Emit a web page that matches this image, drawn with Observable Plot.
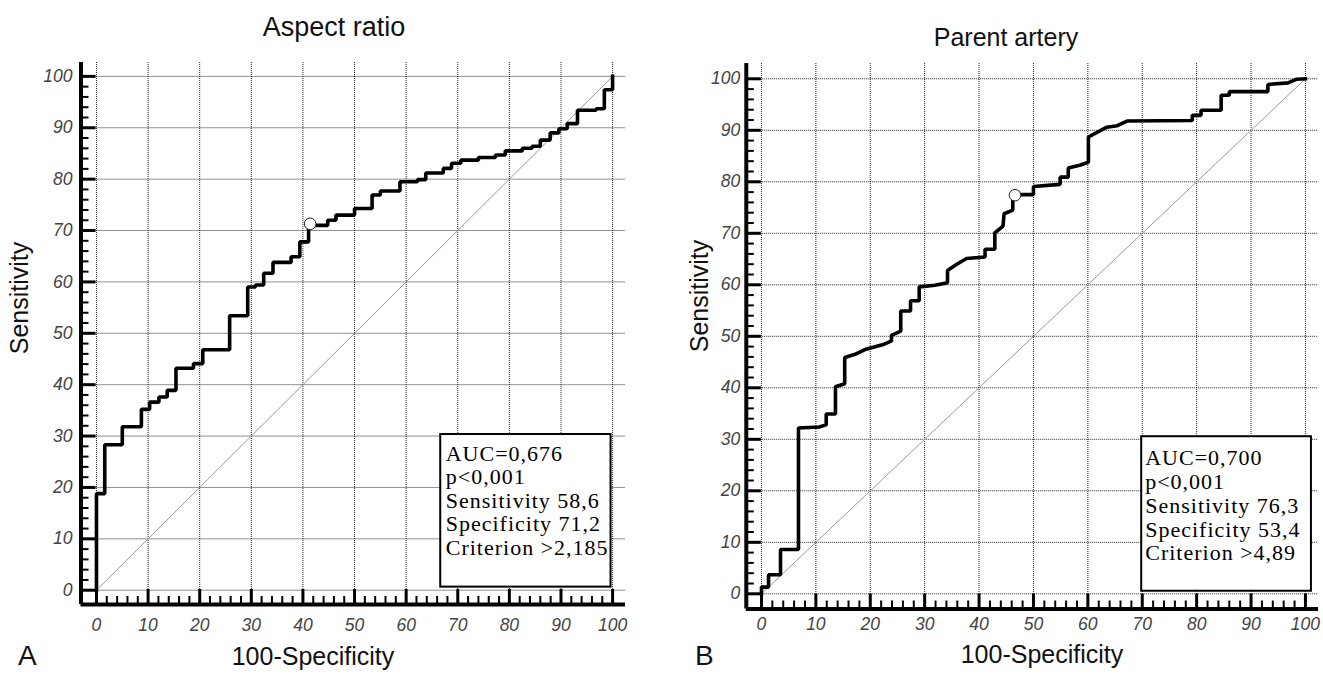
<!DOCTYPE html>
<html><head><meta charset="utf-8">
<script src="https://cdn.jsdelivr.net/npm/d3@7"></script>
<script src="https://cdn.jsdelivr.net/npm/@observablehq/plot@0.6"></script>
<style>
body{margin:0;background:#fff;}
#wrap{position:relative;width:1323px;height:676px;overflow:hidden;background:#fff;}
#left{position:absolute;left:0;top:0;}
#right{position:absolute;left:661px;top:0;}
#labels{position:absolute;left:0;top:0;pointer-events:none;}
</style></head><body>
<div id="wrap"><div id="left"></div><div id="right"></div>
<svg id="labels" width="1323" height="676" font-family="Liberation Sans, Arial, sans-serif" fill="#111"></svg>
</div>
<script>
// ---- data ----
const majorTicks = [0, 10, 20, 30, 40, 50, 60, 70, 80, 90, 100];
const minorTicks = [2,4,6,8,12,14,16,18,22,24,26,28,32,34,36,38,42,44,46,48,52,54,56,58,62,64,66,68,72,74,76,78,82,84,86,88,92,94,96,98];
const diagX = [0, 100];
const diagY = [0, 100];

// Aspect ratio ROC (step points: 100-Specificity, Sensitivity)
const aspectFpr = [0,0,1.6,5.0,8.7,10.3,12.1,13.7,15.4,18.8,20.6,25.8,29.3,30.8,32.4,34.2,37.7,39.4,41.1,44.8,46.4,50.0,53.4,55.0,58.8,62.2,63.8,67.2,68.8,70.6,74.0,77.3,79.2,82.5,84.4,86.0,87.9,89.6,91.2,93.2,96.8,98.4,100];
const aspectTpr = [0,18.8,28.3,31.8,35.2,36.6,37.6,38.9,43.2,44.1,46.8,53.4,59.0,59.4,61.7,63.8,64.9,67.8,71.0,72.0,73.0,74.3,76.9,77.7,79.5,79.9,81.2,82.1,83.1,83.7,84.2,84.7,85.5,86.0,86.4,87.6,89.0,89.8,90.8,93.4,93.7,97.4,100];
const aspectCut = {fpr: 41.4, tpr: 71.3};
const aspectStats = ["AUC=0,676", "p<0,001", "Sensitivity 58,6", "Specificity 71,2", "Criterion >2,185"];

// Parent artery ROC (vertices)
const parentFpr = [0,0,1.3,1.3,3.5,3.5,6.8,6.8,10.6,11.9,11.9,13.6,13.6,15.3,15.3,17.2,19.2,22.4,23.9,23.9,25.6,25.6,27.4,27.4,29.0,29.0,31.9,34.2,34.2,35.9,37.7,41.1,41.1,42.9,42.9,44.4,44.6,46.2,46.2,46.6,50.0,50.0,54.9,54.9,56.4,56.4,58.5,60.1,60.1,63.5,65.4,67.2,79.2,79.2,80.8,80.8,84.5,84.5,86.0,86.0,93.1,93.1,96.8,98.3,100];
const parentTpr = [0,1.3,1.3,3.7,3.7,8.6,8.6,32.2,32.4,32.8,34.9,34.9,40.2,40.8,45.9,46.5,47.5,48.4,49.1,50.2,51.0,54.9,54.9,56.9,56.9,59.6,59.9,60.4,62.8,64.0,65.1,65.4,66.9,66.9,70.1,71.4,73.8,74.5,76.3,77.5,77.5,79.1,79.5,80.9,80.9,82.7,83.2,83.8,88.7,90.6,90.9,91.8,91.9,92.9,92.9,93.9,93.9,96.8,96.8,97.5,97.5,98.9,99.2,99.9,100];
const parentCut = {fpr: 46.6, tpr: 77.4};
const parentStats = ["AUC=0,700", "p<0,001", "Sensitivity 76,3", "Specificity 53,4", "Criterion >4,89"];

const titles = ["Aspect ratio", "Parent artery"];
const xLabel = "100-Specificity";
const yLabel = "Sensitivity";
const panelLetters = ["A", "B"];

// ---- drawing ----
function panel(cfg) {
  const roc = cfg.fpr.map((x, i) => ({x, y: cfg.tpr[i]}));
  const diag = diagX.map((x, i) => ({x, y: diagY[i]}));
  const [xmin, xmax] = cfg.xDomain, [ymin, ymax] = cfg.yDomain;
  const kx = (cfg.width - cfg.mL - cfg.mR) / (xmax - xmin);
  const ky = (676 - cfg.mT - cfg.mB) / (ymax - ymin);
  const grid = {stroke: "#222", strokeOpacity: 1, strokeWidth: 1, strokeDasharray: "1,1"};
  const chart = Plot.plot({
    width: cfg.width, height: 676,
    marginLeft: cfg.mL, marginRight: cfg.mR, marginTop: cfg.mT, marginBottom: cfg.mB,
    x: {domain: cfg.xDomain},
    y: {domain: cfg.yDomain},
    style: {background: "transparent", fontFamily: "Liberation Sans, Arial, sans-serif", overflow: "visible"},
    marks: [
      Plot.gridX(majorTicks, grid),
      Plot.gridY(majorTicks, grid),
      Plot.line(diag, {x: "x", y: "y", stroke: "#9a9a9a", strokeWidth: 1}),
      Plot.rect([0], {x1: () => cfg.box[0], x2: () => cfg.box[1], y1: () => cfg.box[2], y2: () => cfg.box[3],
        fill: "white", stroke: "black", strokeWidth: 2}),
      Plot.text([cfg.stats.join("\n")], {x: () => cfg.box[0], y: () => cfg.box[3], text: d => d,
        textAnchor: "start", lineAnchor: "top", dx: cfg.tdx, dy: cfg.tdy, lineHeight: cfg.lh,
        fontSize: 22, fontFamily: "Liberation Serif, Times New Roman, serif", fill: "black"}),
      Plot.line(roc, {x: "x", y: "y", curve: cfg.curve, stroke: "black", strokeWidth: 3.6, strokeLinejoin: "miter", strokeLinecap: "square"}),
      Plot.dot([cfg.cut], {x: "fpr", y: "tpr", r: 5.8, fill: "white", stroke: "#222", strokeWidth: 1}),
      // inward ticks
      Plot.ruleY(majorTicks, {y: d => d, x1: () => xmin, x2: () => xmin + 15 / kx, stroke: "black", strokeWidth: 3}),
      Plot.ruleY(minorTicks, {y: d => d, x1: () => xmin, x2: () => xmin + 8 / kx, stroke: "black", strokeWidth: 2}),
      Plot.ruleX(majorTicks, {x: d => d, y1: () => ymin, y2: () => ymin + 15 / ky, stroke: "black", strokeWidth: 3}),
      Plot.ruleX(minorTicks, {x: d => d, y1: () => ymin, y2: () => ymin + 8 / ky, stroke: "black", strokeWidth: 2}),
      // spines
      Plot.ruleX([xmin], {stroke: "black", strokeWidth: 4}),
      Plot.ruleY([ymin], {stroke: "black", strokeWidth: 4}),
      Plot.axisX(majorTicks, {anchor: "bottom", tickSize: 0, tickPadding: cfg.xPad, fontSize: 17.5, fontStyle: "italic", color: "#444", label: null}),
      Plot.axisY(majorTicks, {anchor: "left", tickSize: 0, tickPadding: cfg.yPad, fontSize: 17.5, fontStyle: "italic", color: "#444", label: null})
    ]
  });
  d3.select(chart).selectAll('g[aria-label="text"] text').attr("letter-spacing", 1);
  return chart;
}

document.getElementById("left").append(panel({
  width: 661, mL: 80.5, mR: 36, mT: 62, mB: 72,
  xDomain: [-3.0, 102.5], yDomain: [-2.78, 102.7],
  fpr: aspectFpr, tpr: aspectTpr, curve: "step-after", cut: aspectCut, stats: aspectStats,
  box: [66.7, 99.7, 0.6, 30.3], tdx: 5, tdy: 9.7, lh: 1.068, xPad: 14, yPad: 8.5
}));
document.getElementById("right").append(panel({
  width: 662, mL: 84.8, mR: 5, mT: 63, mB: 67.5,
  xDomain: [-2.79, 102.4], yDomain: [-2.95, 102.97],
  fpr: parentFpr, tpr: parentTpr, curve: "linear", cut: parentCut, stats: parentStats,
  box: [69.9, 101.1, 0.5, 30.5], tdx: 3.5, tdy: 11.7, lh: 1.08, xPad: 9, yPad: 6
}));

// outer labels
const svg = d3.select("#labels");
function label(x, y, t, size, anchor, rot) {
  const el = svg.append("text").attr("font-size", size).attr("text-anchor", anchor).text(t);
  if (rot) el.attr("transform", `translate(${x},${y}) rotate(-90)`);
  else el.attr("x", x).attr("y", y);
}
label(334, 36, titles[0], 27, "middle");
label(1006, 46, titles[1], 25, "middle");
label(313, 665, xLabel, 25, "middle");
label(1042, 663, xLabel, 25, "middle");
label(28, 298, yLabel, 25, "middle", true);
label(708, 296, yLabel, 25, "middle", true);
label(18, 665, panelLetters[0], 28, "start");
label(695, 665, panelLetters[1], 28, "start");
</script>
</body></html>
